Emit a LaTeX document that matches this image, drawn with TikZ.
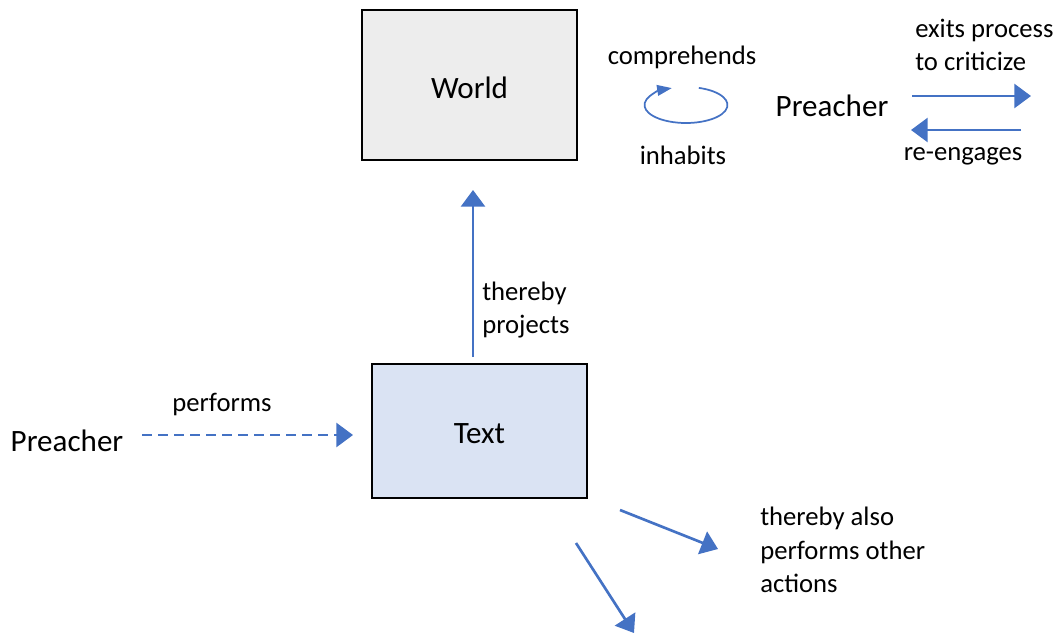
\documentclass[tikz,border=0pt]{standalone}
\usepackage{fontspec}
\setmainfont{Carlito}
\usetikzlibrary{arrows.meta,calc}
\definecolor{linkblue}{HTML}{4472C4}
\definecolor{worldfill}{HTML}{EDEDED}
\definecolor{textfill}{HTML}{DAE3F3}
\tikzset{
  big/.style={font=\fontsize{23.3}{28}\selectfont},
  small/.style={font=\fontsize{20}{25}\selectfont},
  boxnode/.style={draw=black, line width=1.2pt, minimum width=161.25pt, inner sep=0pt},
  boxtitle/.style={big, yshift=-1.8pt},
  link/.style={draw=linkblue, line width=2pt, -{Triangle[length=12.5pt,width=18pt]}},
  dashlink/.style={link, dash pattern=on 7.5pt off 4.5pt},
}
\begin{document}
\begin{tikzpicture}[x=0.75pt, y=-0.75pt]
\useasboundingbox (0,0) rectangle (1056,632);

% boxes
\node[boxnode, fill=worldfill, minimum height=112.5pt, label={[boxtitle]center:World}] (world) at (469.5,85) {};
\node[boxnode, fill=textfill, minimum height=100.5pt, label={[boxtitle]center:Text}] (text) at (479.5,431) {};

% projection upwards
\coordinate (projfrom) at (473,357);
\coordinate (projto) at (473,190);
\draw[link] (projfrom) -- (projto);
\node[small, align=left, anchor=west, inner sep=0pt] (projlbl) at (482,310) {thereby\\projects};

% preacher performing the text
\node[big, inner sep=0pt] (preacherL) at (67,441) {Preacher};
\coordinate (perffrom) at (142,435);
\coordinate (perfto) at (353,435);
\draw[dashlink] (perffrom) -- (perfto);
\node[small, inner sep=0pt] (perflbl) at (222,405) {performs};

% other actions
\coordinate (actAfrom) at (620,510);
\coordinate (actAto) at (718,549);
\draw[link] (actAfrom) -- (actAto);
\coordinate (actBfrom) at (576,543);
\coordinate (actBto) at (634,633);
\draw[link] (actBfrom) -- (actBto);
\node[small, align=left, anchor=west, inner sep=0pt] (actlbl) at (760,550) {thereby also\\performs other\\actions};

% hermeneutic circle
\node[small, inner sep=0pt] (comp) at (682,57) {comprehends};
\node[small, inner sep=0pt] (inhab) at (683,155) {inhabits};
\coordinate (cyc) at (686,105);
\draw[draw=linkblue, line width=1.3pt, -{Triangle[length=11pt,width=8pt]}]
  ($(cyc)+({41.5*cos(-72)},{18*sin(-72)})$) arc[start angle=-72, end angle=250, x radius=41.5, y radius=18];

% preacher stepping out and back in
\node[big, inner sep=0pt] (preacherR) at (832,106) {Preacher};
\coordinate (exitfrom) at (912,96);
\coordinate (exitto) at (1031,96);
\draw[link] (exitfrom) -- (exitto);
\coordinate (backfrom) at (1021,130);
\coordinate (backto) at (911,130);
\draw[link] (backfrom) -- (backto);
\node[small, align=left, anchor=west, inner sep=0pt] (exitlbl) at (915,45) {exits process\\to criticize};
\node[small, inner sep=0pt] (backlbl) at (963,156) {re-engages};
\end{tikzpicture}
\end{document}
